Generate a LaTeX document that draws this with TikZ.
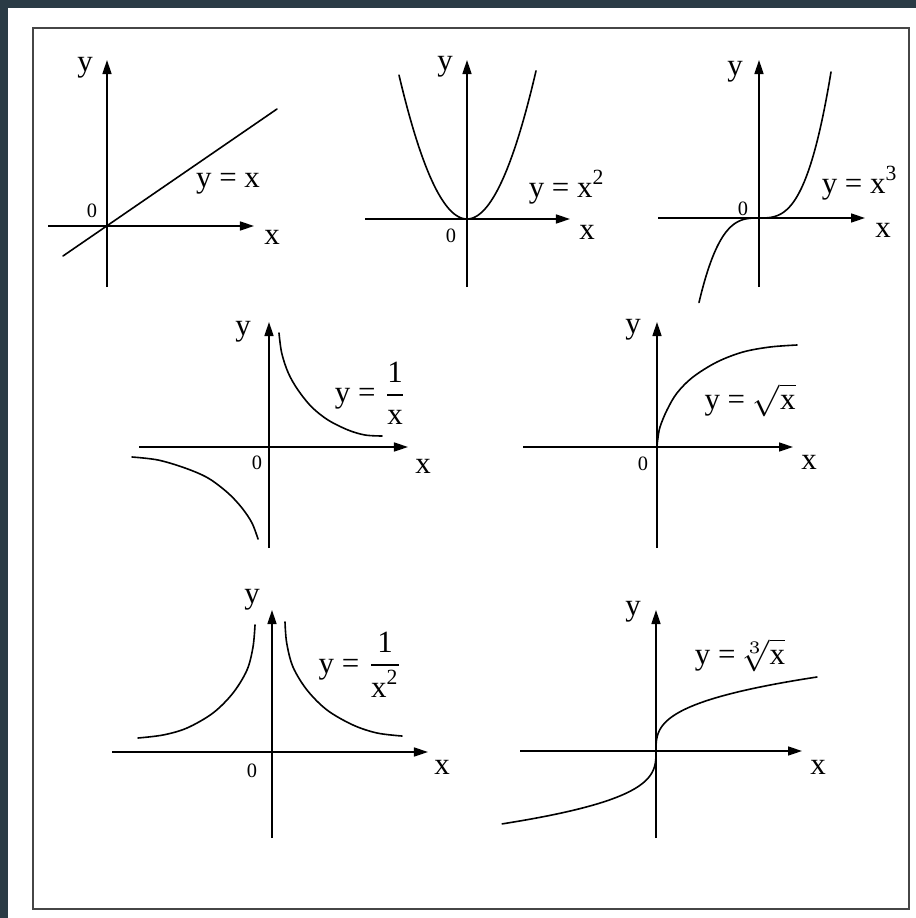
\documentclass[tikz,border=0pt]{standalone}
\usepackage{fontspec}
\setmainfont{Liberation Serif}
\usetikzlibrary{arrows.meta}
\definecolor{slate}{RGB}{42,59,69}
\tikzset{
  axis/.style={line width=0.016cm,-{Triangle[length=0.14cm,width=0.09cm]}},
  curve/.style={line width=0.016cm,line cap=round},
  lbl/.style={inner sep=0pt,font=\fontsize{8.8}{10}\selectfont},
  orig/.style={inner sep=0pt,font=\fontsize{5.8}{7}\selectfont}
}
\begin{document}
\begin{tikzpicture}[x=0.01cm,y=-0.01cm]
\fill[slate] (0,0) rectangle (916,918);
\fill[white] (8,8) rectangle (916,918);
\useasboundingbox (0,0) rectangle (916,918);
\draw[line width=0.02cm,gray!55!black] (33,28) rectangle (909,909);

% Panel 1: y = x
\begin{scope}[shift={(107,226)},yscale=-1]
\coordinate (a1b) at (0,-61); \coordinate (a1t) at (0,166);
\coordinate (a1l) at (-59,0); \coordinate (a1r) at (147,0);
\coordinate (c1s) at (-44,-30); \coordinate (c1e) at (170,117);
\draw[axis] (a1l) -- (a1r);
\draw[axis] (a1b) -- (a1t);
\draw[curve] (c1s) -- (c1e);
\node[lbl] (y1) at (-22,158) {y};
\node[lbl] (x1) at (165,-11) {x};
\node[orig] (o1) at (-15,15) {0};
\node[lbl] (f1) at (121,42) {y = x};
\end{scope}

% Panel 2: y = x^2
\begin{scope}[shift={(467,219)},yscale=-1]
\coordinate (a2b) at (0,-68); \coordinate (a2t) at (0,159);
\coordinate (a2l) at (-102,0); \coordinate (a2r) at (103,0);
\draw[axis] (a2l) -- (a2r);
\draw[axis] (a2b) -- (a2t);
\draw[curve] plot[domain=-68:69,samples=80,smooth] (\x,{146*(\x/68.5)^2});
\node[lbl] (y2) at (-22,152) {y};
\node[lbl] (x2) at (120,-13) {x};
\node[orig] (o2) at (-16,-17) {0};
\node[lbl] (f2) at (100,32) {y = x\textsuperscript{2}};
\end{scope}

% Panel 3: y = x^3
\begin{scope}[shift={(759,218)},yscale=-1]
\coordinate (a3b) at (0,-69); \coordinate (a3t) at (0,158);
\coordinate (a3l) at (-101,0); \coordinate (a3r) at (106,0);
\draw[axis] (a3l) -- (a3r);
\draw[axis] (a3b) -- (a3t);
\draw[curve] plot[domain=-60:72,samples=80,smooth] (\x,{146*(\x/72)*(\x/72)*(\x/72)});
\node[lbl] (y3) at (-24,146) {y};
\node[lbl] (x3) at (124,-12) {x};
\node[orig] (o3) at (-16,9) {0};
\node[lbl] (f3) at (101,35) {y = x\textsuperscript{3}};
\end{scope}

% Panel 4: y = 1/x
\begin{scope}[shift={(269,447)},yscale=-1]
\coordinate (a4b) at (0,-101); \coordinate (a4t) at (0,125);
\coordinate (a4l) at (-130,0); \coordinate (a4r) at (139,0);
\draw[axis] (a4l) -- (a4r);
\draw[axis] (a4b) -- (a4t);
\draw[curve] plot[smooth,tension=0.55] coordinates {(10,114) (12.7,94) (19.3,74) (29,57) (42.7,40) (59,27) (79,17) (96,12) (113,11)};
\draw[curve] plot[smooth,tension=0.55] coordinates {(-137,-10) (-111,-13) (-84,-21) (-61,-31) (-41,-46) (-27,-61) (-17,-76) (-11,-92)};
\node[lbl] (y4) at (-26,115) {y};
\node[lbl] (x4) at (154,-19) {x};
\node[orig] (o4) at (-12,-16) {0};
\node[lbl] (f4) at (102,54) {y = $\displaystyle\frac{\mbox{1}}{\mbox{x}}$};
\end{scope}

% Panel 5: y = sqrt x
\begin{scope}[shift={(657,447)},yscale=-1]
\coordinate (a5b) at (0,-101); \coordinate (a5t) at (0,125);
\coordinate (a5l) at (-134,0); \coordinate (a5r) at (136,0);
\draw[axis] (a5l) -- (a5r);
\draw[axis] (a5b) -- (a5t);
\draw[curve] plot[smooth,tension=0.55] coordinates {(0,0) (0.8,8) (3,20) (10,37) (20,54) (36,70) (60,85) (86,95) (113,100) (140,102)};
\node[lbl] (y5) at (-24,117) {y};
\node[lbl] (x5) at (152,-15) {x};
\node[orig] (o5) at (-14,-17) {0};
\node[lbl] (f5) at (93,47) {y = $\sqrt{\mbox{x}}$};
\end{scope}

% Panel 6: y = 1/x^2
\begin{scope}[shift={(272,752)},yscale=-1]
\coordinate (a6b) at (0,-86); \coordinate (a6t) at (0,142);
\coordinate (a6l) at (-160,0); \coordinate (a6r) at (156,0);
\draw[axis] (a6l) -- (a6r);
\draw[axis] (a6b) -- (a6t);
\draw[curve] plot[smooth,tension=0.55] coordinates {(13,130) (14.7,109) (21,85) (35,62) (55,42) (81,27) (105,19) (130,16)};
\draw[curve] plot[smooth,tension=0.55] coordinates {(-17,127) (-19,105) (-25,82) (-39,59) (-59,39) (-85,24) (-109,17) (-134,14)};
\node[lbl] (y6) at (-20,152) {y};
\node[lbl] (x6) at (170,-15) {x};
\node[orig] (o6) at (-20,-19) {0};
\node[lbl] (f6) at (89,87) {y = $\displaystyle\frac{\mbox{1}}{\mbox{x\textsuperscript{2}}}$};
\end{scope}

% Panel 7: y = cbrt x
\begin{scope}[shift={(656,751)},yscale=-1]
\coordinate (a7b) at (0,-87); \coordinate (a7t) at (0,141);
\coordinate (a7l) at (-136,0); \coordinate (a7r) at (146,0);
\draw[axis] (a7l) -- (a7r);
\draw[axis] (a7b) -- (a7t);
\draw[curve] plot[domain=-0.985:1,samples=100,smooth] ({161*\x*\x*\x},{74*\x});
\node[lbl] (y7) at (-23,139) {y};
\node[lbl] (x7) at (162,-16) {x};
\node[lbl] (f7) at (84,96) {y = \kern-0.12em$\sqrt[3]{\mbox{x}}$};
\end{scope}
\end{tikzpicture}
\end{document}
